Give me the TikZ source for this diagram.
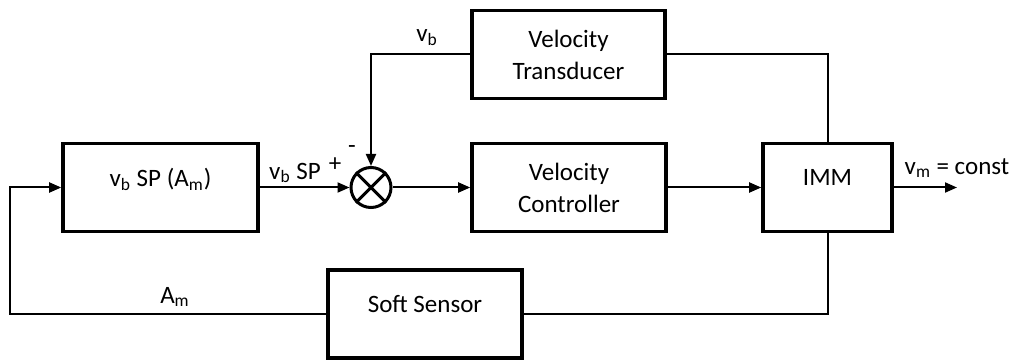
\documentclass[tikz,border=0pt]{standalone}
\usepackage{fontspec}
\setmainfont{Carlito}
\usetikzlibrary{arrows.meta,positioning}
\begin{document}
\begin{tikzpicture}[x=0.5pt,y=0.5pt,
    bloco/.style={draw,line width=1.8pt,minimum height=44pt,inner sep=0pt},
    texto/.style={font=\fontsize{12.5}{16}\selectfont,align=center,inner sep=0pt},
    seta/.style={-{Triangle[length=6pt,width=5pt]},line width=1pt},
    linha/.style={line width=1pt}]
    \useasboundingbox (0,0) rectangle (1017,359);
    % Blocos
    \node[bloco,minimum width=97.5pt] (sp) at (160.5,171.5) {};
    \node[bloco,minimum width=96.5pt] (trans) at (568.5,304.5) {};
    \node[bloco,minimum width=97pt] (ctrl) at (569,171.5) {};
    \node[bloco,minimum width=64.5pt] (imm) at (827.5,171.5) {};
    \node[bloco,minimum width=97pt] (soft) at (425,45) {};
    % Textos dos blocos
    \node[texto] (sp-t) at ([yshift=4pt]sp.center) {v\textsubscript{b} SP (A\textsubscript{m})};
    \node[texto] (trans-t) at (trans.center) {Velocity\\Transducer};
    \node[texto] (ctrl-t) at (ctrl.center) {Velocity\\Controller};
    \node[texto] (imm-t) at ([yshift=5pt]imm.center) {IMM};
    \node[texto] (soft-t) at ([yshift=5pt]soft.center) {Soft Sensor};
    % Somador
    \node[circle,draw,line width=1.5pt,minimum size=20pt,inner sep=0pt] (soma) at (371,171.5) {};
    \draw[line width=1.5pt] (soma.45) -- (soma.225) (soma.135) -- (soma.315);
    % Caminho direto
    \draw[seta] (sp.east) -- (soma.west);
    \draw[seta] (soma.east) -- (ctrl.west);
    \draw[seta] (ctrl.east) -- (imm.west);
    \coordinate (saida) at (957,171.5);
    \draw[seta] (imm.east) -- (saida);
    % Realimentacao de velocidade
    \draw[seta] (trans.west) -| (soma.north);
    \draw[linha] (trans.east) -| (imm.north);
    % Realimentacao do sensor
    \coordinate (esq) at (10,45);
    \draw[linha] (imm.south) |- (soft.east);
    \draw[seta] (soft.west) -- (esq) |- (sp.west);
    % Rotulos
    \node[texto] (vb) at (427,321) {v\textsubscript{b}};
    \node[texto] (menos) at (352,209) {-};
    \node[texto] (mais) at (335,194) {+};
    \node[texto] (vbsp) at (295,186) {v\textsubscript{b} SP};
    \node[texto] (vm) at (957,191) {v\textsubscript{m} = const};
    \node[texto] (am) at (175,62) {A\textsubscript{m}};
\end{tikzpicture}
\end{document}
